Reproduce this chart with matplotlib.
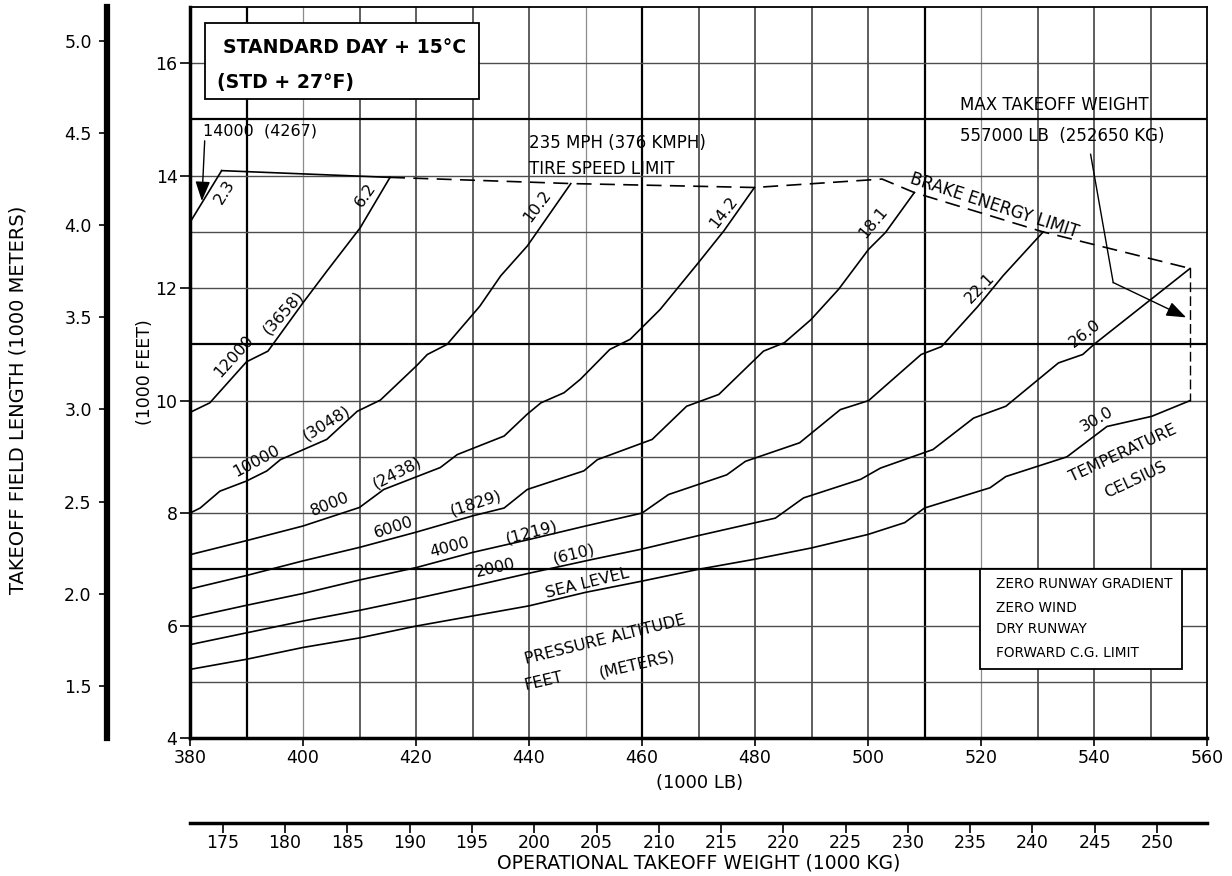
import matplotlib
matplotlib.use("Agg")
import matplotlib.pyplot as plt
from matplotlib.patches import Rectangle

# takeoff field length (1000 ft) vs operational takeoff weight (1000 lb)
# one curve per pressure altitude, standard day + 15 C
sl_wt = [380, 390, 400, 410, 420, 430, 440, 450, 460, 470, 480, 490, 500, 506.5, 510,
         521.6, 524.4, 535.2, 542.3, 550.2, 557]
sl_len = [5.22, 5.40, 5.61, 5.78, 5.99, 6.17, 6.35, 6.59, 6.79, 7.00, 7.18, 7.38, 7.62, 7.83,
          8.09, 8.45, 8.65, 9.00, 9.54, 9.72, 10.0]

ft2_wt = [380, 390, 400, 410, 420, 430, 440, 451.4, 460, 470, 483.6, 488.6, 498.7, 502.2,
          511.5, 518.7, 524.4, 533.7, 538, 540, 557]
ft2_len = [5.66, 5.87, 6.08, 6.27, 6.48, 6.70, 6.93, 7.18, 7.36, 7.60, 7.91, 8.27, 8.60, 8.80,
           9.13, 9.69, 9.90, 10.67, 10.82, 11.0, 12.35]

ft4_wt = [380, 390, 400, 410, 420, 430, 440, 450, 460, 464.7, 475, 478.3, 487.9, 495.1, 500.1,
          509.4, 513, 519.4, 523.9, 531]
ft4_len = [6.14, 6.36, 6.57, 6.81, 7.03, 7.30, 7.53, 7.77, 8.00, 8.33, 8.68, 8.92, 9.25, 9.84,
           10.0, 10.82, 10.96, 11.67, 12.22, 13.0]

ft6_wt = [380, 390, 400, 410, 420, 430, 435.6, 439.7, 449.7, 452.1, 461.8, 467.9, 473.6, 481.5,
          485.2, 489.9, 494.8, 500.1, 503.1, 508.2]
ft6_len = [6.65, 6.89, 7.15, 7.39, 7.66, 7.95, 8.09, 8.42, 8.75, 8.95, 9.31, 9.90, 10.11, 10.88,
           11.03, 11.44, 11.98, 12.69, 12.99, 13.70]

ft8_wt = [380, 390, 400, 410, 414.3, 424.3, 427.3, 435.6, 439.7, 442.1, 446.2, 449.1, 454.3,
          457.9, 463.2, 469.8, 474.5, 479.9]
ft8_len = [7.26, 7.51, 7.77, 8.10, 8.42, 8.81, 9.04, 9.37, 9.76, 9.96, 10.14, 10.38, 10.91,
           11.09, 11.62, 12.43, 13.02, 13.79]

ft10_wt = [380, 381.8, 385.3, 390, 393.6, 396, 404.2, 409.6, 413.7, 420.1, 422, 425.5, 431.3,
           435, 439.7, 447.4]
ft10_len = [8.00, 8.09, 8.39, 8.57, 8.75, 8.95, 9.31, 9.81, 10.01, 10.62, 10.82, 11.0, 11.68,
            12.22, 12.75, 13.86]

ft12_wt = [380, 383.5, 390, 393.8, 400, 404.2, 410.1, 415.4]
ft12_len = [9.79, 9.96, 10.69, 10.88, 11.74, 12.30, 13.07, 13.97]

ft14_wt = [380, 385.6]
ft14_len = [13.17, 14.09]

# limit lines
tire_solid_wt = [385.6, 415.4]
tire_solid_len = [14.09, 13.97]
limit_wt = [415.4, 447.4, 479.9, 502.5, 508.2, 531, 557]
limit_len = [13.97, 13.86, 13.79, 13.94, 13.70, 13.0, 12.35]
mtow_wt = 557
mtow_len = [12.35, 10.0]

# axis ticks
lb_ticks = list(range(380, 561, 20))
ft_ticks = list(range(4, 17, 2))
m_ticks = [1.5, 2.0, 2.5, 3.0, 3.5, 4.0, 4.5, 5.0]
kg_ticks = list(range(175, 251, 5))

# labels along the curves: text, weight, length, rotation
alt_labels = [("12000", 387.7, 10.79, 48), ("(3658)", 396.5, 11.56, 48),
              ("10000", 391.8, 8.92, 28), ("(3048)", 404.2, 9.60, 32),
              ("8000", 404.8, 8.15, 22), ("(2438)", 416.6, 8.72, 27),
              ("6000", 416.0, 7.74, 18), ("(1829)", 430.5, 8.18, 18),
              ("4000", 426.0, 7.39, 15), ("(1219)", 440.5, 7.66, 15),
              ("2000", 434.0, 7.03, 13), ("(610)", 447.9, 7.27, 14),
              ("SEA LEVEL", 450.4, 6.75, 14),
              ("PRESSURE ALTITUDE", 453.5, 5.75, 14),
              ("FEET", 442.6, 5.01, 13), ("(METERS)", 459.1, 5.31, 13)]
temp_labels = [("2.3", 386.2, 13.72, 58), ("6.2", 411.0, 13.66, 55),
               ("10.2", 441.5, 13.46, 53), ("14.2", 474.5, 13.35, 52),
               ("18.1", 501.0, 13.17, 50), ("22.1", 519.8, 12.01, 46),
               ("26.0", 538.5, 11.19, 38), ("30.0", 540.5, 9.66, 30),
               ("TEMPERATURE", 545.2, 9.07, 25), ("CELSIUS", 547.3, 8.60, 25)]
notes = ["ZERO RUNWAY GRADIENT", "ZERO WIND", "DRY RUNWAY", "FORWARD C.G. LIMIT"]
notes_y = [6.73, 6.32, 5.93, 5.52]

plt.rcParams["font.family"] = ["DejaVu Sans"]

W, H = 1232, 876
fig = plt.figure(figsize=(W / 100, H / 100), dpi=100)
ax = fig.add_axes([190 / W, 1 - 738 / H, 1017 / W, 731 / H])
ax.set_xlim(380, 560)
ax.set_ylim(4, 17)

# grid, with the heavier / lighter lines of the printed chart
for v in range(390, 560, 10):
    if v in (390, 460, 510):
        ax.axvline(v, color="k", lw=1.6, zorder=0.5)
    elif v in (400, 450, 520):
        ax.axvline(v, color="0.55", lw=0.9, zorder=0.5)
    else:
        ax.axvline(v, color="0.2", lw=1.1, zorder=0.5)
for h in range(5, 17):
    if h in (7, 11, 15):
        ax.axhline(h, color="k", lw=1.6, zorder=0.5)
    else:
        ax.axhline(h, color="0.3", lw=1.0, zorder=0.5)

for wt, ln in [(sl_wt, sl_len), (ft2_wt, ft2_len), (ft4_wt, ft4_len), (ft6_wt, ft6_len),
               (ft8_wt, ft8_len), (ft10_wt, ft10_len), (ft12_wt, ft12_len),
               (ft14_wt, ft14_len), (tire_solid_wt, tire_solid_len)]:
    ax.plot(wt, ln, color="k", lw=1.2, zorder=2)
ax.plot(limit_wt, limit_len, color="k", lw=1.2, ls=(0, (9, 5)), zorder=2)
ax.plot([mtow_wt, mtow_wt], mtow_len, color="k", lw=1.0, ls=(0, (7, 3)), zorder=2)

for s in ("left", "bottom"):
    ax.spines[s].set_linewidth(2.5)
for s in ("top", "right"):
    ax.spines[s].set_linewidth(1.3)
ax.set_xticks(lb_ticks)
ax.set_yticks(ft_ticks)
ax.tick_params(axis="x", direction="out", length=6, width=1.2, labelsize=12.5, pad=2)
ax.tick_params(axis="y", direction="out", length=7, width=1.2, labelsize=12.5, pad=2)

# metres scale on the left
sec_m = ax.secondary_yaxis(-83 / 1017, functions=(lambda v: v * 0.3048, lambda v: v / 0.3048))
sec_m.set_yticks(m_ticks)
sec_m.set_yticklabels([f"{v:.1f}" for v in m_ticks])
sec_m.spines["left"].set_linewidth(4.5)
sec_m.tick_params(length=6, width=1.2, labelsize=12.5, pad=5)

# kilogram scale below
sec_kg = ax.secondary_xaxis(-85 / 731, functions=(lambda v: v / 2.20462, lambda v: v * 2.20462))
sec_kg.set_xticks(kg_ticks)
sec_kg.spines["bottom"].set_linewidth(2.5)
sec_kg.tick_params(length=7, width=1.2, labelsize=12.5, pad=1)
sec_kg.set_xlabel("OPERATIONAL TAKEOFF WEIGHT (1000 KG)", fontsize=13.5, labelpad=1)

fig.text(700 / W, 1 - 783 / H, "(1000 LB)", ha="center", va="center", fontsize=13)
fig.text(18 / W, 1 - 400 / H, "TAKEOFF FIELD LENGTH (1000 METERS)", rotation=90,
         ha="center", va="center", fontsize=14)
fig.text(145 / W, 1 - 372 / H, "(1000 FEET)", rotation=90, ha="center", va="center",
         fontsize=12.5)

for txt, x, y, r in alt_labels + temp_labels:
    ax.text(x, y, txt, rotation=r, rotation_mode="anchor", ha="center", va="center",
            fontsize=11.5, zorder=4)
ax.text(522.4, 13.47, "BRAKE ENERGY LIMIT", rotation=-18, rotation_mode="anchor",
        ha="center", va="center", fontsize=12, zorder=4)

ax.text(440.0, 14.58, "235 MPH (376 KMPH)", ha="left", va="center", fontsize=12)
ax.text(440.0, 14.12, "TIRE SPEED LIMIT", ha="left", va="center", fontsize=12)
ax.text(516.2, 15.26, "MAX TAKEOFF WEIGHT", ha="left", va="center", fontsize=12)
ax.text(516.2, 14.71, "557000 LB  (252650 KG)", ha="left", va="center", fontsize=12)
ax.text(382.35, 14.79, "14000  (4267)", ha="left", va="center", fontsize=11.5)

ax.annotate("", xy=(382.1, 13.55), xytext=(382.6, 14.62),
            arrowprops=dict(arrowstyle="-|>,head_length=0.8,head_width=0.3", color="k",
                            lw=1.0, shrinkA=0, shrinkB=0, mutation_scale=15))
ax.plot([539.4, 543.4], [14.38, 12.10], color="k", lw=1.0)
ax.annotate("", xy=(556.3, 11.48), xytext=(543.4, 12.10),
            arrowprops=dict(arrowstyle="-|>,head_length=0.8,head_width=0.3", color="k",
                            lw=1.0, shrinkA=0, shrinkB=0, mutation_scale=15))

# boxed notes
ax.add_patch(Rectangle((382.65, 15.36), 48.55, 1.36, fc="white", ec="k", lw=1.3, zorder=3))
ax.text(385.8, 16.28, "STANDARD DAY + 15°C", ha="left", va="center", fontsize=13.6,
        fontweight="bold", zorder=4)
ax.text(384.7, 15.65, "(STD + 27°F)", ha="left", va="center", fontsize=13.6,
        fontweight="bold", zorder=4)

ax.add_patch(Rectangle((519.8, 5.23), 35.8, 1.78, fc="white", ec="k", lw=1.3, zorder=3))
for txt, y in zip(notes, notes_y):
    ax.text(522.6, y, txt, ha="left", va="center", fontsize=9.8, zorder=4)

fig.savefig("out.png", dpi=100)
